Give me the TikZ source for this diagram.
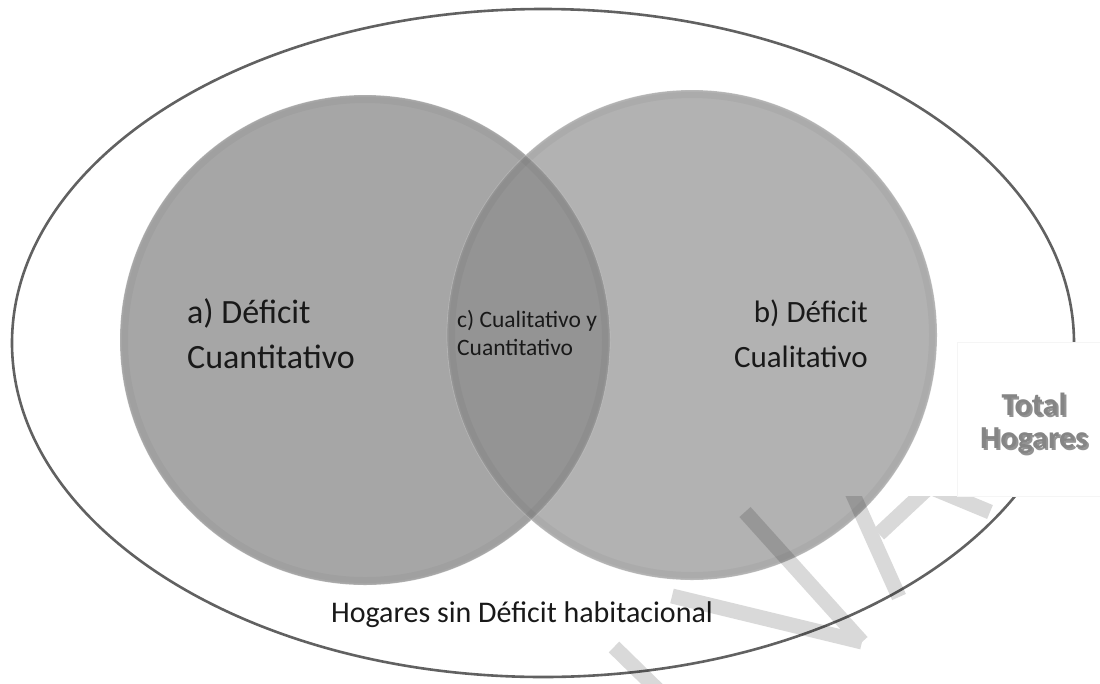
\documentclass[tikz,border=0pt]{standalone}
\usepackage{fontspec}
\setmainfont{Carlito}
\newcommand{\markBand}[2]{
  \draw[band] #1 -- #2
}

\begin{document}
\begin{tikzpicture}[x=1pt,y=-1pt,
  lbl/.style={inner sep=0pt,text=black!90},
  band/.style={line width=15pt,draw=black},
  hoop/.style={draw=black!62,line width=2.6pt}]
  \useasboundingbox (0,0) rectangle (1100,683);
  \coordinate (cTot) at (543,343);
  \coordinate (cLeft) at (365,340);
  \coordinate (cRight) at (692,335);

  % outer set
  \draw[hoop] (cTot) ellipse [x radius=531pt,y radius=334pt];

  % the two sets and their overlap
  \fill[black!35] (cLeft) circle [radius=245pt];
  \fill[black!30] (cRight) circle [radius=245pt];
  \begin{scope}
    \clip (cLeft) circle [radius=245pt];
    \fill[black!42] (cRight) circle [radius=245pt];
  \end{scope}
  \draw[black,opacity=0.035,line width=6pt] (cLeft) circle [radius=240pt];
  \draw[black,opacity=0.035,line width=6pt] (cRight) circle [radius=240pt];
  \draw[white,opacity=0.2,line width=0.8pt] (cLeft) circle [radius=245pt];
  \draw[white,opacity=0.2,line width=0.8pt] (cRight) circle [radius=245pt];

  \node[lbl,anchor=base west,font=\fontsize{34}{40}\selectfont] (quantOne) at (187,323) {a) Déficit};
  \node[lbl,anchor=base west,font=\fontsize{34}{40}\selectfont] (quantTwo) at (187,368) {Cuantitativo};
  \node[lbl,anchor=base east,font=\fontsize{31}{40}\selectfont] (qualOne) at (868,322) {b) Déficit};
  \node[lbl,anchor=base east,font=\fontsize{31}{40}\selectfont] (qualTwo) at (868,367) {Cualitativo};
  \node[lbl,anchor=base west,font=\fontsize{23.5}{28}\selectfont] (bothOne) at (457,327) {c) Cualitativo y};
  \node[lbl,anchor=base west,font=\fontsize{23.5}{28}\selectfont] (bothTwo) at (457,355) {Cuantitativo};
  \node[lbl,anchor=base,font=\fontsize{30}{36}\selectfont] (noDef) at (522,622) {Hogares sin Déficit habitacional};

  % watermark
  \begin{scope}[transparency group,opacity=0.15]
    \clip (0,496) rectangle (1100,683);
    \markBand{(614,647)}{(658,690)};
    \markBand{(672,596)}{(862,642)};
    \markBand{(745,512)}{(862,642)};
    \markBand{(851,490)}{(899,597)};
    \markBand{(879,534)}{(926,490)};
    \markBand{(925,485)}{(990,512)};
  \end{scope}

  % label box
  \draw[fill=white,draw=black!4] (957,342) rectangle (1101,496);
  \node[lbl,anchor=base,font=\bfseries\fontsize{32}{36}\selectfont,text=black!70,opacity=0.6] (totShadeA) at (1036,417) {Total};
  \node[lbl,anchor=base,font=\bfseries\fontsize{32}{36}\selectfont,text=black!70,opacity=0.6] (totShadeB) at (1036,450) {Hogares};
  \node[lbl,anchor=base,font=\bfseries\fontsize{32}{36}\selectfont,text=black!48] (totOne) at (1034,415) {Total};
  \node[lbl,anchor=base,font=\bfseries\fontsize{32}{36}\selectfont,text=black!48] (totTwo) at (1034,448) {Hogares};
\end{tikzpicture}
\end{document}
